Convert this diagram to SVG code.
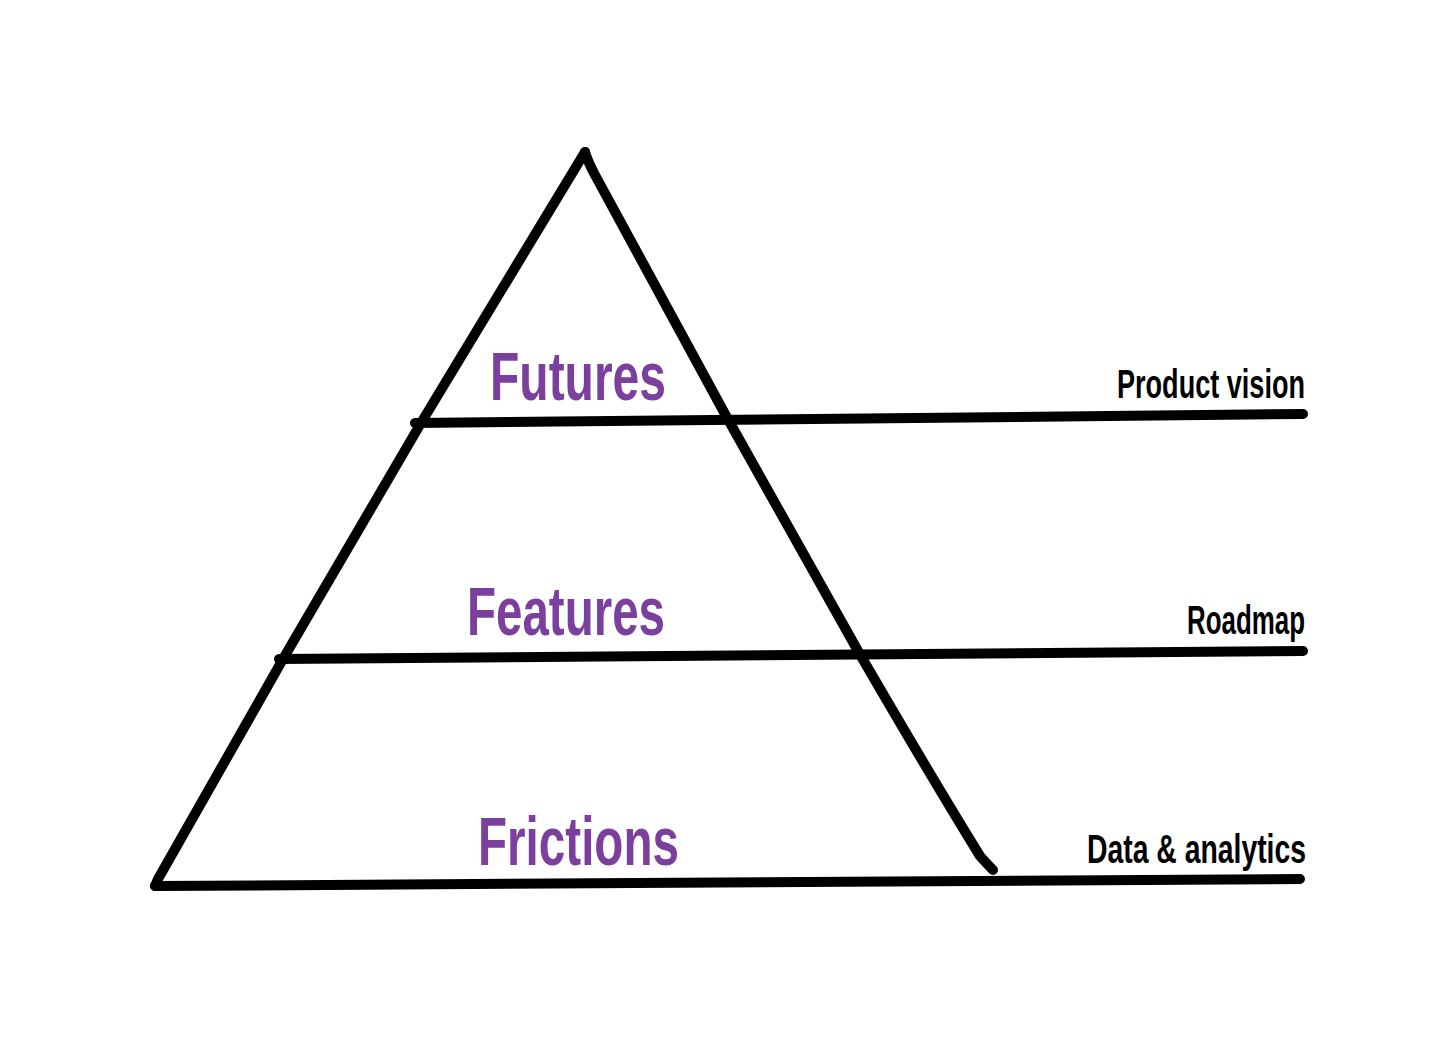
<svg xmlns="http://www.w3.org/2000/svg" width="1456" height="1048" viewBox="0 0 1456 1048">
<style>
.ln{fill:none;stroke:#000;stroke-width:10;stroke-linecap:round;stroke-linejoin:round}
.tier{font-family:"Liberation Sans Narrow","Liberation Sans",Arial,sans-serif;font-weight:bold;fill:#7b3f9e;font-size:68px}
.lab{font-family:"Liberation Sans Narrow","Liberation Sans",Arial,sans-serif;font-weight:bold;fill:#000;font-size:40px}
</style>
<rect width="1456" height="1048" fill="#fff"/>
<g id="connectors">
<path class="ln" d="M585,152 L421,423 L283,659 L162,872 Q158,878 155,886"/>
<path class="ln" d="M585,152 Q588,162 595,175 L725,414 L858,651 Q930,775 980,856 Q987,864 993,870"/>
<path class="ln" d="M155,886 L1300,879"/>
<path class="ln" d="M415,423 L1303,414"/>
<path class="ln" d="M279,659 L1303,651"/>
</g>
<g id="futures"><text class="tier" x="490" y="400" textLength="176" lengthAdjust="spacingAndGlyphs">Futures</text></g>
<g id="features"><text class="tier" x="467" y="635" textLength="198" lengthAdjust="spacingAndGlyphs">Features</text></g>
<g id="frictions"><text class="tier" x="478" y="865" textLength="201" lengthAdjust="spacingAndGlyphs">Frictions</text></g>
<g id="product-vision"><text class="lab" x="1117" y="398" textLength="188" lengthAdjust="spacingAndGlyphs">Product vision</text></g>
<g id="roadmap"><text class="lab" x="1187" y="634" textLength="118" lengthAdjust="spacingAndGlyphs">Roadmap</text></g>
<g id="data-analytics"><text class="lab" x="1087" y="863" textLength="219" lengthAdjust="spacingAndGlyphs">Data &amp; analytics</text></g>
</svg>
